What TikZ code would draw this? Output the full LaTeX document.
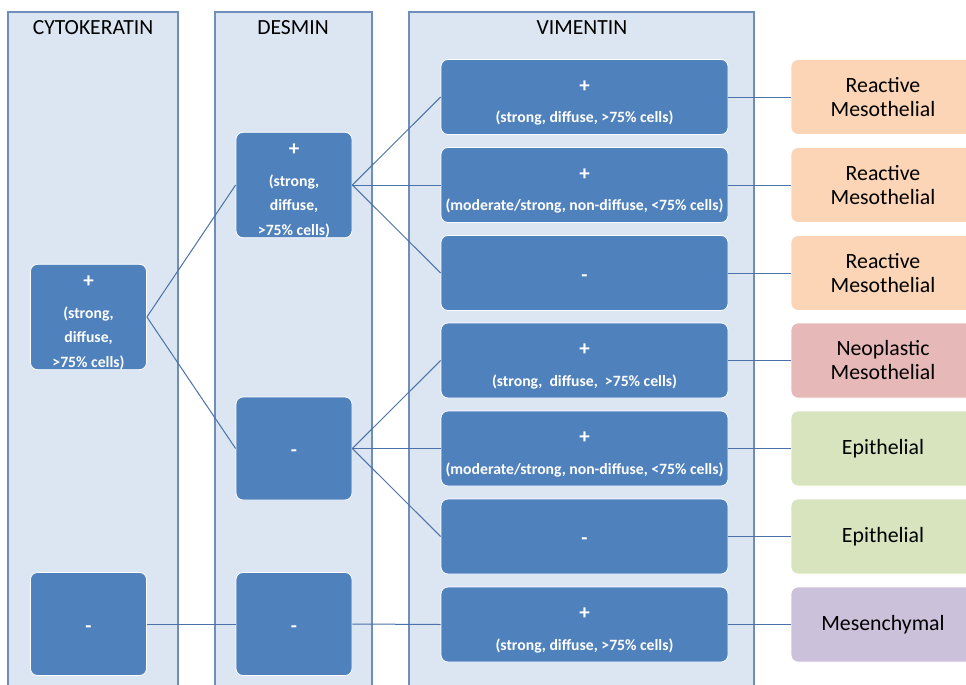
\documentclass[tikz,border=0pt]{standalone}
\usepackage{fontspec}
\setmainfont{Carlito}
\definecolor{colfill}{HTML}{DCE6F2}
\definecolor{colborder}{HTML}{6F8FBA}
\definecolor{boxblue}{HTML}{4F81BD}
\definecolor{linkblue}{HTML}{4A72A8}
\definecolor{resorange}{HTML}{FBD5B5}
\definecolor{respink}{HTML}{E6B9B8}
\definecolor{resgreen}{HTML}{D7E4BD}
\definecolor{respurple}{HTML}{CCC1DA}
% plus / minus signs, with a strut that sets the top of the text block
\newcommand\mkplus{\rule{0pt}{23.5pt}{\fontsize{21}{21}\selectfont +}}
\newcommand\mkminus{\rule{0pt}{16pt}{\fontsize{20}{20}\selectfont -}}
\begin{document}
\begin{tikzpicture}[x=1pt,y=-1pt,
  column/.style={draw=colborder, fill=colfill, line width=1.2pt},
  marker/.style={rounded corners=7pt, fill=boxblue, draw=white, line width=0.8pt,
    text=white, align=center, inner sep=0pt,
    font=\bfseries\fontsize{15.7}{24.5}\selectfont},
  vimbox/.style={marker, minimum width=287pt, minimum height=75pt},
  tallbox/.style={marker, minimum width=116pt, minimum height=103pt},
  outcome/.style={rounded corners=7pt, draw=white, line width=0.8pt, align=center,
    inner sep=0pt, minimum width=184pt, minimum height=75pt,
    font=\fontsize{21.8}{24}\selectfont},
  link/.style={draw=linkblue, line width=1pt},
  header/.style={font=\fontsize{21.6}{22}\selectfont}
]
\clip (0,0) rectangle (966,685);
\fill[white] (0,0) rectangle (966,685);

% marker columns
\draw[column] (8,12) rectangle (178,700);
\draw[column] (215,12) rectangle (372,700);
\draw[column] (409,12) rectangle (754,700);
\node[header] (hc) at (93,28) {CYTOKERATIN};
\node[header] (hd) at (293,28) {DESMIN};
\node[header] (hv) at (582,28) {VIMENTIN};

% cytokeratin
\node[tallbox] (c1) at (88.5,317) {\mkplus\\[6pt](strong,\\diffuse,\\>75\% cells)};
\node[tallbox] (c2) at (88.5,624) {\mkminus};

% desmin
\node[tallbox] (d1) at (294,185) {\mkplus\\[6pt](strong,\\diffuse,\\>75\% cells)};
\node[tallbox] (d2) at (294,448.5) {\mkminus};
\node[tallbox] (d3) at (294,624) {\mkminus};

% vimentin
\node[vimbox] (v1) at (584.5,97) {\mkplus\\[6pt](strong, diffuse, >75\% cells)};
\node[vimbox] (v2) at (584.5,185) {\mkplus\\[6pt](moderate/strong, non-diffuse, <75\% cells)};
\node[vimbox] (v3) at (584.5,273) {\mkminus};
\node[vimbox] (v4) at (584.5,360.5) {\mkplus\\[6pt](strong,\ \ diffuse,\ \ >75\% cells)};
\node[vimbox] (v5) at (584.5,448.5) {\mkplus\\[6pt](moderate/strong, non-diffuse, <75\% cells)};
\node[vimbox] (v6) at (584.5,536.5) {\mkminus};
\node[vimbox] (v7) at (584.5,624.5) {\mkplus\\[6pt](strong, diffuse, >75\% cells)};

% outcomes
\node[outcome, fill=resorange] (r1) at (883,97) {Reactive\\Mesothelial};
\node[outcome, fill=resorange] (r2) at (883,185) {Reactive\\Mesothelial};
\node[outcome, fill=resorange] (r3) at (883,273) {Reactive\\Mesothelial};
\node[outcome, fill=respink] (r4) at (883,360.5) {Neoplastic\\Mesothelial};
\node[outcome, fill=resgreen] (r5) at (883,448.5) {Epithelial};
\node[outcome, fill=resgreen] (r6) at (883,536.5) {Epithelial};
\node[outcome, fill=respurple] (r7) at (883,624.5) {Mesenchymal};

% connectors
\draw[link] (c1.east) -- (d1.west);
\draw[link] (c1.east) -- (d2.west);
\draw[link] (c2.east) -- (d3.west);
\draw[link] (d1.east) -- (v1.west);
\draw[link] (d1.east) -- (v2.west);
\draw[link] (d1.east) -- (v3.west);
\draw[link] (d2.east) -- (v4.west);
\draw[link] (d2.east) -- (v5.west);
\draw[link] (d2.east) -- (v6.west);
\draw[link] (d3.east) -- (v7.west);
\foreach \i in {1,...,7}{\draw[link] (v\i.east) -- (r\i.west);}
\end{tikzpicture}
\end{document}
